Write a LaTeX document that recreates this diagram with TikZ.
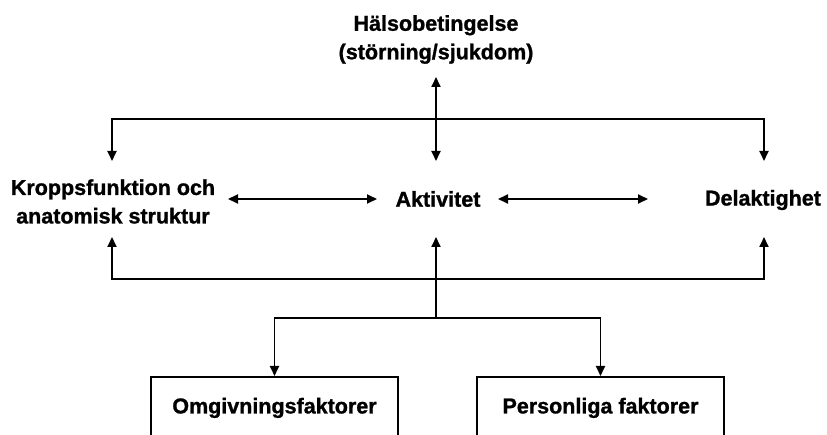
\documentclass[tikz,border=0pt]{standalone}
\usepackage{fontspec}
\setmainfont{Liberation Sans}[BoldFeatures={FakeBold=1.2}]
\usetikzlibrary{arrows.meta}
\begin{document}
\begin{tikzpicture}[x=1pt,y=-1pt,
  lbl/.style={font=\fontsize{21.5}{28.5}\selectfont\bfseries, align=center, inner sep=0pt},
  factor/.style={lbl, draw, line width=1.8pt, minimum width=247pt, minimum height=62pt, anchor=north},
  conn/.style={line width=1.8pt},
  arr/.style={conn, -{Triangle[length=10pt,width=9pt]}},
  darr/.style={conn, {Triangle[length=10pt,width=9pt]}-{Triangle[length=10pt,width=9pt]}}]
\clip (0,0) rectangle (827,435);
\fill[white] (0,0) rectangle (827,435);
% labels
\node[lbl] (halso) at (436,39.5) {Hälsobetingelse\\(störning/sjukdom)};
\node[lbl] (kropp) at (113,201.5) {Kroppsfunktion och\\anatomisk struktur};
\node[lbl] (aktiv) at (438,199) {Aktivitet};
\node[lbl] (delak) at (763,200) {Delaktighet};
\node[factor] (omgiv) at (274.5,376) {Omgivningsfaktorer};
\node[factor] (pers) at (600.5,376) {Personliga faktorer};
% anchor points of connectors
\coordinate (hB) at (436,77);
\coordinate (aT) at (436,161);
\coordinate (aB) at (436,237);
\coordinate (kT) at (112,161);
\coordinate (kB) at (112,237);
\coordinate (dT) at (764,161);
\coordinate (dB) at (764,237);
\coordinate (kR) at (228,199);
\coordinate (aL) at (377,199);
\coordinate (aR) at (498,199);
\coordinate (dL) at (648,199);
\coordinate (topbus) at (0,119);
\coordinate (botbus) at (0,279);
\coordinate (branch) at (0,318);
% top: health condition
\draw[darr] (hB) -- (aT);
\draw[arr] (kT |- topbus) -- (dT |- topbus) -- (dT);
\draw[arr] (dT |- topbus) -- (kT |- topbus) -- (kT);
% middle
\draw[darr] (kR) -- (aL);
\draw[darr] (aR) -- (dL);
% bottom: contextual factors
\draw[arr] (aB |- branch) -- (aB);
\draw[arr] (kB |- botbus) -- (dB |- botbus) -- (dB);
\draw[arr] (dB |- botbus) -- (kB |- botbus) -- (kB);
\draw[arr] (omgiv.north |- branch) -- (pers.north |- branch) -- (pers.north);
\draw[arr] (pers.north |- branch) -- (omgiv.north |- branch) -- (omgiv.north);
\end{tikzpicture}
\end{document}
